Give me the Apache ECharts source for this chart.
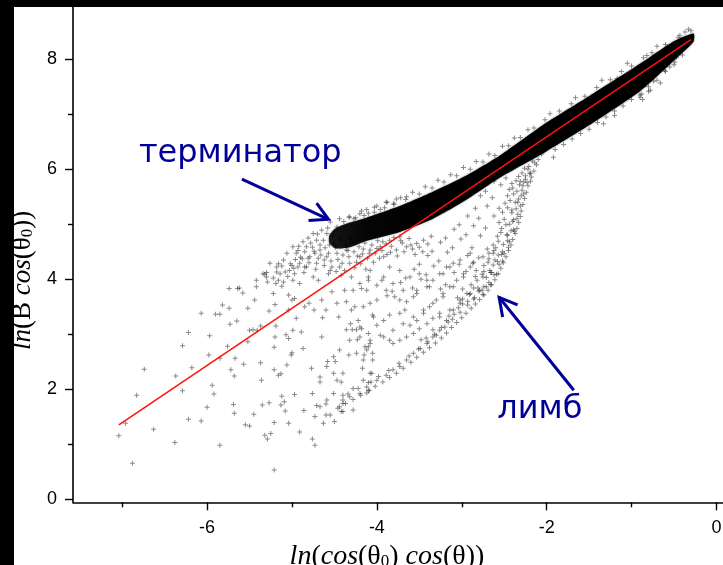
<!DOCTYPE html>
<html>
<head>
<meta charset="utf-8">
<script src="https://cdn.jsdelivr.net/npm/echarts@6/dist/echarts.min.js"></script>
<style>
  html, body { margin: 0; padding: 0; background: #000; }
  #chart { width: 723px; height: 565px; }
</style>
</head>
<body>
<div id="chart"></div>
<script>
// Axis ticks
const xMajorTicks = [-6, -4, -2, 0];
const xMinorTicks = [-7, -5, -3, -1];
const yMajorTicks = [0, 2, 4, 6, 8];
const yMinorTicks = [1, 3, 5, 7];

// Linear fit (red line) end points
const fitLine = [[-7.04, 1.35], [-0.30, 8.36]];

// Saturated core of the cloud: upper and lower envelope
const coreUpper = [[-0.27, 8.47], [-0.5, 8.33], [-0.9, 7.92], [-1.5, 7.33], [-2.0, 6.85], [-2.55, 6.25],
  [-2.94, 5.89], [-3.34, 5.59], [-3.73, 5.33], [-4.12, 5.12], [-4.32, 5.03], [-4.48, 4.93], [-4.56, 4.80]];
const coreLower = [[-0.27, 8.32], [-0.5, 7.98], [-0.9, 7.42], [-1.5, 6.80], [-2.0, 6.33], [-2.55, 5.85],
  [-2.94, 5.45], [-3.34, 5.10], [-3.73, 4.86], [-4.12, 4.70], [-4.32, 4.58], [-4.48, 4.56], [-4.56, 4.66]];

// Sparse fan at low cos values
const sparseFan = [[-7.04,1.15],[-6.88,0.65],[-6.96,1.38],[-6.83,1.89],[-6.74,2.36],[-6.63,1.27],[-6.38,1.03],[-6.37,2.24],
  [-6.29,1.97],[-6.29,2.79],[-6.22,3.03],[-6.22,1.45],[-6.18,2.39],[-6.07,1.42],[-6.07,3.38],[-5.98,2.62],[-5.97,2.97],
  [-5.94,2.07],[-5.92,1.91],[-6.0,1.67],[-5.90,3.36],[-5.85,3.36],[-5.85,2.56],[-5.85,0.98],[-5.82,3.53],[-5.74,3.47],
  [-5.74,3.83],[-5.73,3.18],[-5.72,2.35],[-5.69,1.72],[-5.68,1.56],[-5.68,2.24],[-5.64,3.83],[-5.62,3.84],[-5.65,3.24],
  [-5.67,2.56],[-5.76,2.78],[-5.58,3.75],[-5.55,1.35],[-5.50,1.33],[-5.52,2.86],[-5.52,3.47],[-5.57,2.45],[-5.50,3.07],
  [-5.46,3.08],[-5.45,1.54],[-5.44,3.62],[-5.42,3.86],[-5.41,3.07],[-5.37,3.15],[-5.37,2.48],[-5.36,2.16],[-5.35,1.71],
  [-5.32,4.09],[-5.30,4.12],[-5.29,3.95],[-5.32,1.16],[-5.27,3.42],[-5.25,1.19],[-5.29,1.09],[-5.27,1.75],[-5.21,0.53],
  [-5.21,1.39],[-5.21,2.35],[-5.21,2.76],[-5.20,2.95],[-5.19,3.15],[-5.20,3.54],[-5.22,3.74],[-5.19,3.92],[-5.16,4.28],
  [-5.18,4.13],[-5.16,2.25],[-5.13,2.28],[-5.13,1.71],[-5.12,1.87],[-5.09,1.77],[-5.08,1.60],[-5.04,1.38],[-5.06,2.44],
  [-5.04,2.92],[-5.07,2.99],[-5.01,2.62],[-5.00,2.66],[-4.99,3.07],[-4.97,1.90],[-4.95,3.29],[-4.97,3.65],[-5.00,3.62],
  [-4.99,3.98],[-4.91,1.22],[-4.92,4.60],[-4.93,4.22],[-4.89,3.04],[-4.87,2.74],[-4.86,1.61],[-4.85,3.50],[-4.80,3.56],
  [-4.76,1.92],[-4.77,2.38],[-4.76,1.09],[-4.73,0.98],[-4.73,1.50],[-4.71,1.70],[-4.67,2.13],[-4.65,2.95],[-4.64,3.30],
  [-4.63,1.38],[-4.60,1.73],[-4.60,1.53],[-4.58,2.50],[-4.51,2.29],[-4.50,1.41],[-4.49,2.50],[-4.45,3.31],[-4.42,2.13],
  [-4.42,1.59],[-4.40,1.89],[-4.40,1.74],[-4.36,3.08],[-4.33,2.62],[-4.31,3.19],[-4.29,3.08],[-4.26,3.50],[-4.24,3.08],
  [-4.23,2.90],[-4.20,3.92],[-4.18,3.10],[-4.17,2.38],[-4.15,2.62],[-4.14,2.77],[-4.10,2.77],[-4.12,1.93],[-4.09,1.98],
  [-4.08,3.56],[-4.07,2.13],[-4.06,2.29],[-4.05,2.53],[-4.05,2.65],[-4.05,3.35],[-4.10,3.98],[-4.18,3.83],[-4.28,3.80],
  [-4.38,3.80],[-4.30,4.04],[-4.42,4.07],[-5.00,4.25],[-5.08,4.13],[-5.10,3.95],[-4.85,4.22],[-4.81,4.38],[-4.73,4.47],
  [-4.67,4.62],[-4.62,4.35],[-4.57,4.10],[-4.53,4.22],[-4.69,3.98],[-4.75,4.04],[-4.97,4.10],[-4.91,3.92],[-5.16,3.98],
  [-5.12,3.87],[-5.04,3.71],[-5.04,3.44],[-4.74,3.44],[-4.65,3.62],[-4.60,3.44],[-4.53,3.77],[-4.47,3.56],[-4.36,3.59],
  [-4.30,3.44],[-4.22,3.25],[-4.10,3.01]];

// Terminator branch: spread around the dense knot
const terminatorFan = [[-5.34,4.10],[-5.18,4.22],[-5.10,4.35],[-4.95,4.47],[-4.83,4.59],[-4.71,4.71],[-4.59,4.83],
  [-4.47,4.95],[-4.44,5.10],[-4.32,5.13],[-4.20,5.19],[-4.55,5.04],[-4.65,4.89],[-4.75,4.83],[-4.87,4.68],[-4.99,4.59],
  [-5.06,4.47],[-5.26,4.29],[-5.42,3.98],[-5.30,4.04],[-5.14,4.10],[-5.03,4.16],[-4.91,4.29],[-4.79,4.41],[-4.67,4.53],
  [-4.51,4.65],[-4.83,4.22],[-4.71,4.29],[-4.59,4.41],[-4.47,4.47],[-4.36,4.53],[-4.55,4.16],[-4.44,4.22],[-4.32,4.29],
  [-4.20,4.41],[-4.08,4.53],[-3.96,4.59],[-3.85,4.71],[-3.73,4.77],[-3.92,4.41],[-3.77,4.53],[-3.65,4.59],[-3.53,4.65],
  [-3.45,4.71],[-4.10,4.04],[-4.93,4.52],[-4.88,4.37],[-4.78,4.66],[-4.74,4.51],[-4.69,4.38],[-4.63,4.71],[-4.61,4.57],
  [-4.57,4.47],[-4.52,4.79],[-4.49,4.58],[-4.46,4.36],[-4.42,4.71],[-4.40,4.44],[-4.37,4.62],[-4.33,4.41],[-4.29,4.66],
  [-4.27,4.50],[-4.24,4.31],[-4.21,4.59],[-4.17,4.46],[-4.14,4.66],[-4.11,4.38],[-4.06,4.62],[-4.02,4.47],[-3.99,4.70],
  [-3.94,4.52],[-3.89,4.64],[-3.84,4.49],[-3.80,4.76],[-3.70,4.66],[-3.62,4.74],[-3.58,4.55],[-4.96,4.36],[-5.02,4.28],
  [-4.85,4.50],[-4.81,4.75],[-4.70,4.82],[-4.58,4.93],[-4.50,4.87],[-4.39,5.05],[-4.27,5.10],[-4.15,5.16],[-4.03,5.22],
  [-3.91,5.30],[-3.80,5.38],[-4.12,5.27],[-4.00,5.33],[-3.89,5.40],[-3.77,5.46],[-3.65,5.50],
  [-5.22,4.02],[-5.12,4.24],[-5.05,4.05],[-4.98,4.20],[-4.90,4.40],[-4.86,4.12],[-4.80,4.30],[-4.76,4.58],[-4.72,4.18],
  [-4.66,4.44],[-4.62,4.25],[-4.56,4.62],[-4.54,4.33],[-4.48,4.14],[-4.45,4.76],[-4.41,4.29],[-4.38,4.16],[-4.34,4.52],
  [-4.31,4.73],[-4.26,4.21],[-4.23,4.42],[-4.19,4.28],[-4.16,4.55],[-4.13,4.18],[-4.09,4.47],[-4.04,4.31],[-4.00,4.56],
  [-3.97,4.38],[-3.93,4.68],[-3.88,4.45],[-3.83,4.60],[-3.76,4.42],[-3.72,4.70],[-3.68,4.50],[-3.60,4.62],[-3.55,4.45],
  [-3.50,4.58],[-3.46,4.50],[-3.40,4.64],[-3.36,4.78]];

// Fuzzy edge of the core band and isolated points near the top end
const bandFringe = [[-0.45,8.40],[-0.6,8.27],[-0.76,8.12],[-0.86,8.03],[-1.0,7.88],[-1.12,7.78],[-1.25,7.63],[-1.41,7.49],
  [-1.55,7.33],[-1.71,7.19],[-1.85,7.06],[-2.02,6.90],[-2.15,6.75],[-2.31,6.58],[-2.45,6.43],[-2.61,6.25],[-2.75,6.13],
  [-2.9,6.00],[-3.06,5.88],[-3.21,5.77],[-3.35,5.66],[-3.5,5.55],[-3.66,5.45],[-3.8,5.36],[-3.96,5.27],[-4.1,5.20],
  [-4.25,5.12],[-0.7,8.24],[-1.05,7.93],[-1.35,7.62],[-1.66,7.30],[-1.96,7.01],[-2.22,6.72],[-2.52,6.42],[-2.83,6.14],
  [-3.13,5.90],[-3.43,5.68],[-3.72,5.48],[-4.03,5.31],[-4.33,5.13],[-2.38,6.57],[-2.68,6.28],[-2.98,6.03],[-3.28,5.80],
  [-3.58,5.58],[-3.88,5.40],[-4.18,5.24],
  [-0.4,8.08],[-0.6,7.78],[-0.8,7.50],[-1.0,7.27],[-1.2,7.06],[-1.4,6.85],[-1.6,6.65],[-1.8,6.45],[-0.5,7.90],
  [-0.7,7.62],[-0.9,7.35],[-1.1,7.15],[-1.3,6.95],[-1.5,6.73],[-1.7,6.55],[-1.9,6.36],
  [-0.78,7.44],[-0.90,7.31],[-0.87,7.27],[-0.74,7.60],[-0.66,7.57],[-0.61,7.80],[-0.55,7.86],[-0.49,7.95],
  [-0.47,8.04],[-0.41,8.16],[-1.33,6.83],[-1.20,6.98],[-1.31,7.04],[-1.92,6.22],[-0.80,7.42],[-0.88,7.37],
  [-0.82,8.07],[-0.37,8.50],[-0.43,8.44],[-0.33,8.55],[-0.30,8.52],[-1.17,7.65],[-0.94,7.56]];

// Limb branch: interior of the fan
const limbFan = [[-2.25,5.82],[-2.30,5.52],[-2.34,5.18],[-2.38,4.87],[-2.45,4.58],[-2.52,4.33],[-2.59,4.09],[-2.66,3.90],
  [-2.75,3.72],[-2.31,5.78],[-2.40,5.66],[-2.46,5.52],[-2.56,5.29],[-2.62,5.15],[-2.72,4.93],[-2.78,4.79],[-2.88,4.57],
  [-2.93,4.43],[-3.03,4.27],[-3.09,4.12],[-3.19,3.90],[-3.25,3.82],[-2.41,5.26],[-2.48,4.99],[-2.54,4.85],[-2.60,4.57],
  [-2.68,4.37],[-2.74,4.14],[-2.84,4.05],[-2.89,3.90],[-2.99,3.82],[-3.05,3.66],[-2.70,4.55],[-2.80,4.39],[-2.86,4.31],
  [-2.95,4.14],[-2.64,5.48],[-2.70,5.33],[-2.80,5.11],[-2.86,4.97],[-2.95,4.81],[-3.01,4.73],[-3.11,4.57],[-3.17,4.49],
  [-3.27,4.33],[-3.33,4.24],[-3.42,4.08],[-3.48,4.00],[-3.58,3.84],[-3.09,4.91],[-3.19,4.75],[-3.25,4.67],[-3.35,4.51],
  [-3.40,4.43],[-3.50,4.27],[-3.56,4.18],[-3.66,4.02],[-3.72,3.94],[-3.82,3.78],[-3.88,3.70],[-2.93,5.15],[-3.03,4.99],
  [-2.84,5.29],[-2.48,5.84],[-2.54,5.72],[-2.62,5.78],[-2.72,5.60],[-2.78,5.52],
  [-4.00,3.89],[-3.94,3.98],[-3.89,3.80],[-3.79,3.68],[-3.73,3.62],[-3.65,3.59],[-3.67,3.44],[-3.73,3.38],[-3.85,3.35],
  [-3.92,3.25],[-4.00,3.16],[-3.96,2.98],[-3.85,2.89],[-3.81,2.83],[-3.73,2.89],[-3.65,2.95],[-3.57,3.01],[-3.50,3.10],
  [-3.41,3.19],[-3.34,3.29],[-3.26,3.38],[-3.53,3.25],[-3.61,3.16],[-3.45,3.38],[-3.38,3.50],[-3.30,3.62],[-3.22,3.74],
  [-3.14,3.86],[-3.06,3.98],[-2.98,4.10],[-2.90,4.22],[-3.41,3.98],[-3.38,3.86],[-3.53,3.80],[-3.57,3.68],[-3.50,4.10],
  [-3.61,4.04],[-3.73,4.16],[-3.85,4.22],[-3.26,4.10],[-3.18,4.22],[-3.10,4.29],[-2.94,3.74],[-3.02,3.62],[-3.10,3.44],
  [-3.18,3.25],[-3.26,3.07],[-3.34,2.95],[-3.41,2.83],[-3.49,2.74],[-3.57,2.65],[-3.65,2.53],[-3.73,2.41],[-3.81,2.35],
  [-3.89,2.25],[-4.00,2.16],[-4.12,2.04],[-4.20,1.92],[-4.32,1.86],[-4.40,1.80],[-4.28,2.01],[-4.16,2.16],[-4.08,2.29],
  [-4.16,2.53],[-4.24,2.65],[-4.12,2.71],[-4.08,2.83],[-4.20,2.95],[-4.32,2.89],[-4.44,2.71],[-4.51,2.59],[-4.59,2.41],
  [-4.67,2.22],[-4.47,2.16],[-4.40,2.29],[-4.51,1.92],[-4.59,1.80],[-4.67,1.68],[-4.44,1.68],[-4.40,1.59],[-4.28,1.62],
  [-4.08,4.16],[-3.92,4.04],[-3.81,3.92],[-3.69,3.80],[-3.53,3.74],[-3.41,3.86],[-3.34,3.98],[-3.22,4.10],[-3.14,4.22],
  [-3.02,4.35],[-2.90,4.47],[-2.83,4.16],[-2.75,4.04],[-2.67,4.16],[-2.61,4.35],[-2.63,4.47],[-2.75,4.41],[-2.87,4.29],
  [-2.98,4.04],[-3.10,3.86],[-3.22,3.68],[-3.34,3.56],[-3.45,3.44],[-3.57,3.31],[-3.69,3.19],[-3.81,3.07],[-3.92,2.95],
  [-2.90,3.74],[-3.02,3.56],[-3.14,3.44],[-3.26,3.31],[-2.79,3.80],[-2.71,3.86],[-4.12,3.80],[-4.00,3.62],[-4.16,3.50],
  [-4.04,3.31],[-4.20,3.13],[-4.08,2.89]];

// Limb branch: crowded outer rim
const limbEdge = [[-2.06,6.28],[-2.10,6.18],[-2.12,6.08],[-2.15,5.97],[-2.18,5.86],[-2.19,5.78],[-2.22,5.70],[-2.24,5.58],
  [-2.26,5.47],[-2.28,5.36],[-2.30,5.24],[-2.31,5.14],[-2.33,5.03],[-2.35,4.92],[-2.37,4.83],[-2.40,4.72],[-2.42,4.62],
  [-2.45,4.52],[-2.48,4.41],[-2.51,4.30],[-2.54,4.20],[-2.57,4.10],[-2.61,3.99],[-2.65,3.90],[-2.69,3.80],[-2.74,3.71],
  [-2.79,3.63],[-2.84,3.55],[-2.89,3.47],[-2.95,3.38],[-3.00,3.30],[-3.06,3.21],[-3.12,3.12],[-3.18,3.02],[-3.24,2.93],
  [-3.31,2.84],[-3.38,2.75],[-3.45,2.67],[-3.53,2.58],[-3.60,2.49],[-3.69,2.38],[-3.77,2.29],[-3.85,2.21],[-3.93,2.13],
  [-4.02,2.05],[-4.10,1.97],[-4.19,1.89],[-4.28,1.81],[-4.37,1.74],[-4.46,1.65],[-4.55,1.53],
  [-2.14,6.12],[-2.19,5.93],[-2.23,5.76],[-2.27,5.55],[-2.31,5.33],[-2.35,5.10],[-2.39,4.90],[-2.44,4.68],[-2.50,4.47],
  [-2.56,4.27],[-2.62,4.08],[-2.68,3.94],[-2.76,3.80],[-2.85,3.66],[-2.93,3.53],[-3.02,3.40],[-3.11,3.27],[-3.20,3.13],
  [-3.30,2.98],[-3.40,2.86],[-3.51,2.73],[-3.62,2.60],[-3.74,2.47],[-3.86,2.34],[-3.98,2.23],[-4.10,2.12],[-4.22,2.01],
  [-4.34,1.91],[-2.53,4.45],[-2.66,4.12],[-2.81,3.84],[-2.99,3.55],[-3.15,3.33],[-3.34,3.08],[-3.48,2.90],[-2.46,4.80],
  [-2.40,5.05],[-2.34,5.40],[-2.28,5.70],[-2.22,6.00],[-2.16,6.22],
  [-2.17,6.15],[-2.21,6.05],[-2.26,6.02],[-2.20,5.92],[-2.25,5.88],[-2.29,5.93],[-2.33,5.87],[-2.27,5.77],[-2.32,5.72],
  [-2.36,5.79],[-2.41,5.74],[-2.29,5.62],[-2.35,5.60],[-2.39,5.55],[-2.44,5.63],[-2.33,5.46],[-2.37,5.40],[-2.43,5.43],
  [-2.49,5.38],[-2.36,5.28],[-2.41,5.21],[-2.46,5.30],[-2.52,5.22],[-2.39,5.08],[-2.44,5.00],[-2.50,5.09],[-2.56,5.03],
  [-2.42,4.88],[-2.47,4.81],[-2.53,4.92],[-2.58,4.78],[-2.46,4.70],[-2.51,4.63],[-2.57,4.69],[-2.63,4.62],[-2.52,4.50],
  [-2.57,4.44],[-2.62,4.52],[-2.68,4.47],[-2.58,4.32],[-2.63,4.26],[-2.69,4.31],[-2.74,4.25],[-2.65,4.12],[-2.71,4.03],
  [-2.76,4.09],[-2.82,3.98],[-2.74,3.86],[-2.80,3.78],[-2.86,3.84],[-2.91,3.72],[-2.86,3.64],[-2.93,3.60],[-2.99,3.64],
  [-3.04,3.48],[-3.09,3.36],[-3.16,3.22],[-3.24,3.12],[-3.32,3.00],[-3.42,2.93]];

// Annotations
const arrowTails = [[-5.59, 5.82], [-1.68, 1.98]];
const arrowHeads = [[-4.57, 5.09], [-2.56, 3.67]];
const labelTexts = ['терминатор', 'лимб'];
const labelAnchors = [[-5.61, 6.29], [-2.08, 1.62]];

const X_MIN = -7.58, X_MAX = 0.1, Y_MIN = -0.06, Y_MAX = 9.0;
const INK = '#000099';
const plus = 'path://M4,0H6V4H10V6H6V10H4V6H0V4H4Z';
const serif = '"Liberation Serif", "Times New Roman", serif';
const sans = '"Liberation Sans", Arial, sans-serif';

const gridBox = { left: 73, right: -1.9, top: 4.4, bottom: 62.7, outerBoundsMode: 'none', containLabel: false };

function cloud(name, data) {
  return {
    name, type: 'scatter', xAxisIndex: 0, yAxisIndex: 0, data,
    symbol: plus, symbolSize: 5, silent: true, z: 3,
    itemStyle: { color: 'rgba(0,0,0,0.58)' }
  };
}

function titleRich(size) {
  return {
    i: { fontFamily: serif, fontStyle: 'italic', fontSize: size, color: '#000' },
    r: { fontFamily: serif, fontSize: size, color: '#000' },
    s: { fontFamily: serif, fontSize: Math.round(size * 0.62), color: '#000', verticalAlign: 'bottom', padding: [9, 0, 0, 0] }
  };
}

const chart = echarts.init(document.getElementById('chart'), null, { renderer: 'canvas' });
chart.setOption({
  animation: false,
  backgroundColor: '#ffffff',
  grid: [Object.assign({}, gridBox), Object.assign({}, gridBox)],
  xAxis: [{
    type: 'value', gridIndex: 0, min: X_MIN, max: X_MAX, position: 'bottom',
    name: '{i|ln}{r|(}{i|cos}{r|(θ}{s|0}{r|) }{i|cos}{r|(θ))}',
    nameLocation: 'middle', nameGap: 36,
    nameTextStyle: { color: '#000', fontFamily: serif, fontSize: 28, padding: [0, 24, 0, 0], rich: titleRich(28) },
    axisLine: { show: true, onZero: false, lineStyle: { color: '#000', width: 1.6 } },
    axisTick: { show: true, inside: false, length: 8, customValues: xMajorTicks, lineStyle: { color: '#000', width: 1.4 } },
    axisLabel: { show: true, customValues: xMajorTicks, margin: 17, color: '#000', fontFamily: sans, fontSize: 18 },
    splitLine: { show: false }
  }, {
    type: 'value', gridIndex: 1, min: X_MIN, max: X_MAX, position: 'bottom',
    axisLine: { show: false, onZero: false },
    axisTick: { show: true, inside: false, length: 5, customValues: xMinorTicks, lineStyle: { color: '#000', width: 1.4 } },
    axisLabel: { show: false },
    splitLine: { show: false }
  }],
  yAxis: [{
    type: 'value', gridIndex: 0, min: Y_MIN, max: Y_MAX, position: 'left',
    name: '{i|ln}{r|(B }{i|cos}{r|(θ}{s|0}{r|))}',
    nameLocation: 'middle', nameGap: 29,
    nameTextStyle: { color: '#000', fontFamily: serif, fontSize: 27, padding: [0, 54, 0, 0], rich: titleRich(27) },
    axisLine: { show: true, onZero: false, lineStyle: { color: '#000', width: 1.6 } },
    axisTick: { show: true, inside: false, length: 8, customValues: yMajorTicks, lineStyle: { color: '#000', width: 1.4 } },
    axisLabel: { show: true, customValues: yMajorTicks, margin: 16, color: '#000', fontFamily: sans, fontSize: 18 },
    splitLine: { show: false }
  }, {
    type: 'value', gridIndex: 1, min: Y_MIN, max: Y_MAX, position: 'left',
    axisLine: { show: false, onZero: false },
    axisTick: { show: true, inside: false, length: 5, customValues: yMinorTicks, lineStyle: { color: '#000', width: 1.4 } },
    axisLabel: { show: false },
    splitLine: { show: false }
  }],
  series: [
    {
      name: 'core', type: 'custom', xAxisIndex: 0, yAxisIndex: 0, silent: true, z: 2,
      data: [coreUpper[0]],
      renderItem: (params, api) => {
        const pts = coreUpper.map(p => api.coord(p))
          .concat(coreLower.slice().reverse().map(p => api.coord(p)));
        return {
          type: 'polygon', shape: { points: pts, smooth: 0.2 },
          style: {
            fill: {
              type: 'linear', x: 0, y: 0, x2: 1, y2: 0,
              colorStops: [
                { offset: 0, color: 'rgba(0,0,0,0.82)' },
                { offset: 0.1, color: 'rgba(0,0,0,0.95)' },
                { offset: 0.25, color: '#000' },
                { offset: 1, color: '#000' }
              ]
            },
            shadowBlur: 2, shadowColor: 'rgba(0,0,0,0.6)'
          }
        };
      }
    },
    cloud('sparseFan', sparseFan),
    cloud('terminatorFan', terminatorFan),
    cloud('bandFringe', bandFringe),
    cloud('limbFan', limbFan),
    cloud('limbEdge', limbEdge),
    {
      name: 'fit', type: 'line', xAxisIndex: 0, yAxisIndex: 0, data: fitLine,
      symbol: 'none', silent: true, z: 5,
      lineStyle: { color: '#ff1010', width: 1.5 }
    },
    {
      name: 'arrows', type: 'custom', xAxisIndex: 0, yAxisIndex: 0, silent: true, z: 6, clip: false,
      data: arrowTails.map((t, i) => [t[0], t[1], arrowHeads[i][0], arrowHeads[i][1]]),
      encode: { x: [0, 2], y: [1, 3] },
      renderItem: (params, api) => {
        const a = api.coord([api.value(0), api.value(1)]);
        const b = api.coord([api.value(2), api.value(3)]);
        const ang = Math.atan2(a[1] - b[1], a[0] - b[0]);
        const len = 20, spread = 0.5;
        const w1 = [b[0] + len * Math.cos(ang + spread), b[1] + len * Math.sin(ang + spread)];
        const w2 = [b[0] + len * Math.cos(ang - spread), b[1] + len * Math.sin(ang - spread)];
        return {
          type: 'group', children: [
            { type: 'line', shape: { x1: a[0], y1: a[1], x2: b[0], y2: b[1] }, style: { stroke: INK, lineWidth: 3 } },
            { type: 'polyline', shape: { points: [w1, b, w2] }, style: { stroke: INK, lineWidth: 3, fill: 'none' } }
          ]
        };
      }
    },
    {
      name: 'labels', type: 'custom', xAxisIndex: 0, yAxisIndex: 0, silent: true, z: 6, clip: false,
      data: labelAnchors,
      renderItem: (params, api) => {
        const p = api.coord([api.value(0), api.value(1)]);
        return {
          type: 'text', x: p[0], y: p[1],
          style: {
            text: labelTexts[params.dataIndex], fill: INK,
            font: '32px "DejaVu Sans", Verdana, sans-serif',
            align: 'center', verticalAlign: 'middle'
          }
        };
      }
    }
  ],
  graphic: [
    { type: 'rect', z: 100, shape: { x: 0, y: 0, width: 14, height: 565 }, style: { fill: '#000' } },
    { type: 'rect', z: 100, shape: { x: 0, y: 0, width: 723, height: 7 }, style: { fill: '#000' } }
  ]
});
</script>
</body>
</html>
